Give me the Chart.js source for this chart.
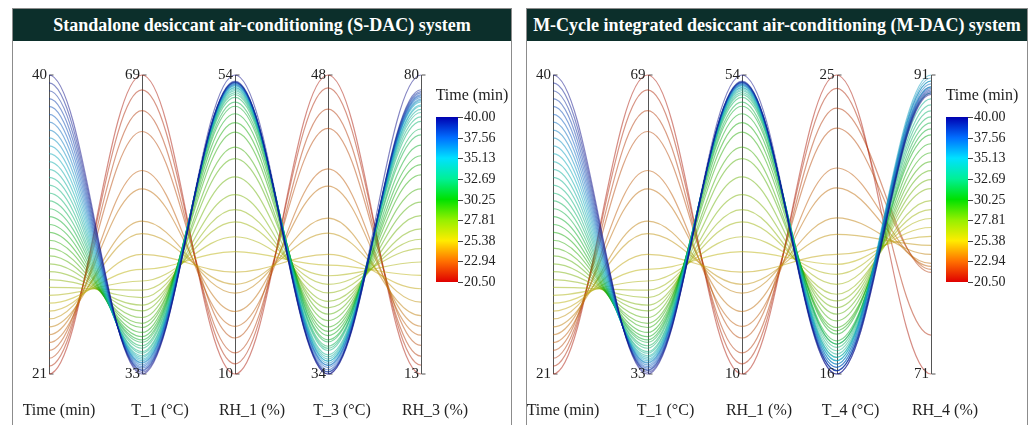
<!DOCTYPE html>
<html>
<head>
<meta charset="utf-8">
<script src="https://cdn.jsdelivr.net/npm/chart.js@4.4.1/dist/chart.umd.min.js"></script>
<style>
  body { margin: 0; background: #fff; width: 1032px; height: 425px; overflow: hidden; position: relative; }
  .panel { position: absolute; top: 8px; height: 440px; border: 1px solid #8c8c8c; box-sizing: border-box; }
  .head { height: 32px; background: #0c2f2b; color: #fff; font: bold 18px "Liberation Serif", serif;
          text-align: center; line-height: 32px; white-space: nowrap; overflow: hidden; }
  canvas { position: absolute; left: 0; top: 32px; }
</style>
</head>
<body>
<div class="panel" style="left:12px;width:500px">
  <div class="head">Standalone desiccant air-conditioning (S-DAC) system</div>
  <canvas id="sdac" width="498" height="384"></canvas>
</div>
<div class="panel" style="left:526px;width:502px">
  <div class="head">M-Cycle integrated desiccant air-conditioning (M-DAC) system</div>
  <canvas id="mdac" width="500" height="384"></canvas>
</div>
<script>
// one record every half minute
const timeMin = [21, 21.5, 22, 22.5, 23, 23.5, 24, 24.5, 25, 25.5, 26, 26.5, 27, 27.5, 28, 28.5, 29, 29.5, 30, 30.5,
                 31, 31.5, 32, 32.5, 33, 33.5, 34, 34.5, 35, 35.5, 36, 36.5, 37, 37.5, 38, 38.5, 39, 39.5, 40];
const t1 = [69.0, 67.2, 64.7, 62.2, 57.5, 55.3, 51.4, 49.9, 47.4, 45.6, 44.2, 43.1, 42.2, 41.3, 40.6, 39.8, 39.1, 38.6, 38.0, 37.5,
            37.1, 36.8, 36.4, 36.1, 35.7, 35.5, 35.2, 35.0, 34.8, 34.6, 34.4, 34.3, 34.1, 33.9, 33.7, 33.5, 33.4, 33.2, 33.0];
const rh1 = [10.0, 11.5, 13.1, 15.3, 17.0, 19.2, 21.9, 23.2, 25.0, 28.0, 30.2, 32.4, 34.2, 36.4, 39.0, 41.7, 43.4, 45.6, 47.0, 48.3,
             49.4, 50.0, 50.7, 51.1, 51.4, 51.7, 51.9, 52.1, 52.2, 52.4, 52.5, 52.6, 52.7, 52.8, 52.9, 52.9, 53.0, 53.1, 54.0];
const t3 = [48.0, 47.4, 46.4, 45.5, 43.6, 42.8, 41.3, 40.6, 39.6, 39.1, 38.6, 38.2, 37.8, 37.4, 37.1, 36.8, 36.5, 36.2, 36.0, 35.8,
            35.6, 35.5, 35.3, 35.2, 35.1, 34.9, 34.8, 34.7, 34.6, 34.6, 34.5, 34.4, 34.4, 34.3, 34.2, 34.1, 34.1, 34.0, 34.0];
const rh3 = [13.0, 15.0, 17.0, 19.4, 21.7, 23.7, 26.1, 29.1, 32.1, 35.1, 38.1, 41.1, 43.2, 45.5, 48.5, 51.5, 54.5, 57.6, 59.9, 61.9,
             64.3, 66.6, 67.9, 69.6, 70.6, 71.6, 72.3, 73.0, 73.3, 74.0, 74.3, 74.6, 75.0, 75.3, 75.6, 76.0, 76.3, 76.7, 80.0];
const t4 = [25.0, 24.6, 24.0, 23.4, 22.2, 21.6, 20.7, 20.2, 19.6, 19.3, 19.0, 18.7, 18.4, 18.2, 18.0, 17.8, 17.6, 17.4, 17.3, 17.2,
            17.0, 16.9, 16.9, 16.8, 16.7, 16.6, 16.5, 16.5, 16.4, 16.4, 16.3, 16.3, 16.2, 16.2, 16.1, 16.1, 16.1, 16.0, 16.0];
const rh4 = [71.0, 73.6, 77.8, 78.0, 78.2, 78.4, 79.0, 79.6, 80.2, 80.8, 81.4, 82.0, 82.6, 83.4, 84.0, 84.6, 85.2, 85.8, 86.4, 87.0,
             87.4, 87.8, 88.2, 88.6, 89.0, 89.4, 89.8, 90.2, 90.6, 91.0, 90.8, 90.6, 90.4, 90.2, 90.1, 90.0, 89.9, 89.8, 89.7];

const namesS = ['Time (min)', 'T_1 (°C)', 'RH_1 (%)', 'T_3 (°C)', 'RH_3 (%)'];
const namesM = ['Time (min)', 'T_1 (°C)', 'RH_1 (%)', 'T_4 (°C)', 'RH_4 (%)'];
const minsS = [21, 33, 10, 34, 13];
const maxsS = [40, 69, 54, 48, 80];
const minsM = [21, 33, 10, 16, 71];
const maxsM = [40, 69, 54, 25, 91];
const barTicks = [40.00, 37.56, 35.13, 32.69, 30.25, 27.81, 25.38, 22.94, 20.50];

// rainbow used by the colour bar (red -> blue)
const cmap = [[20.5, [224, 0, 0]], [22.94, [255, 112, 0]], [25.38, [255, 236, 0]], [27.81, [150, 240, 0]],
              [30.25, [0, 225, 0]], [32.69, [0, 240, 150]], [35.13, [0, 225, 255]], [37.56, [0, 110, 255]], [40, [0, 0, 176]]];

const colorAt = t => {
    for (let k = 1; k < cmap.length; k++) {
        if (t <= cmap[k][0]) {
            const [t0, c0] = cmap[k - 1], [t2, c2] = cmap[k];
            const f = (t - t0) / (t2 - t0);
            return c0.map((v, j) => Math.round(v + (c2[j] - v) * f));
        }
    }
    return cmap[cmap.length - 1][1];
};
// lines look a bit duller than the bar
const lineColor = t => {
    const c = colorAt(t).map(v => Math.round(v * 0.7 + 12));
    return `rgba(${c[0]},${c[1]},${c[2]},0.5)`;
};

// flat tangent at every axis, like the original cosine-shaped links
const flatTangents = {
    id: 'flatTangents',
    beforeDatasetDraw(chart, args) {
        const line = args.meta.dataset;
        line.updateControlPoints(chart.chartArea, 'x');
        const pts = line.points;
        pts.forEach((p, i) => {
            const prev = pts[i - 1], next = pts[i + 1];
            if (prev) { p.cp1x = p.x - (p.x - prev.x) * 0.37; p.cp1y = p.y; }
            if (next) { p.cp2x = p.x + (next.x - p.x) * 0.37; p.cp2y = p.y; }
        });
    }
};

const titleShift = [10, 18, 17, 14, 14];

const parallel = {
    id: 'parallel',
    beforeDatasetsDraw(chart, args, opts) {
        const {ctx, scales: {x, y}} = chart;
        const top = y.getPixelForValue(1), bot = y.getPixelForValue(0);
        ctx.save();
        ctx.strokeStyle = '#555';
        ctx.lineWidth = 1;
        opts.names.forEach((n, i) => {
            const px = Math.round(x.getPixelForValue(i)) + 0.5;
            ctx.beginPath();
            ctx.moveTo(px + 4, top); ctx.lineTo(px, top); ctx.lineTo(px, bot); ctx.lineTo(px + 4, bot);
            ctx.stroke();
        });
        ctx.restore();
    },
    afterDraw(chart, args, opts) {
        const {ctx, chartArea, scales: {x, y}} = chart;
        const top = y.getPixelForValue(1), bot = y.getPixelForValue(0);
        ctx.save();
        ctx.fillStyle = '#222';
        ctx.textBaseline = 'middle';
        opts.names.forEach((n, i) => {
            const px = x.getPixelForValue(i);
            ctx.font = '15px "Liberation Serif", serif';
            ctx.textAlign = 'right';
            ctx.fillText(String(opts.maxs[i]), px - 2, top);
            ctx.fillText(String(opts.mins[i]), px - 2, bot);
            ctx.font = '16px "Liberation Serif", serif';
            ctx.textAlign = 'center';
            ctx.fillText(n, px + titleShift[i], chartArea.bottom + 37);
        });

        // colour bar
        const bx = chartArea.right + 15, bw = 22, bTop = chartArea.top + 42, bBot = chartArea.top + 207;
        const lo = barTicks[barTicks.length - 1], hi = barTicks[0];
        const g = ctx.createLinearGradient(0, bBot, 0, bTop);
        cmap.forEach(([t, c]) => g.addColorStop((t - lo) / (hi - lo), `rgb(${c[0]},${c[1]},${c[2]})`));
        ctx.fillStyle = g;
        ctx.fillRect(bx, bTop, bw, bBot - bTop);
        ctx.strokeStyle = '#444';
        ctx.fillStyle = '#222';
        ctx.font = '14px "Liberation Serif", serif';
        ctx.textAlign = 'left';
        barTicks.forEach(v => {
            const py = Math.round(bBot - (v - lo) / (hi - lo) * (bBot - bTop)) + 0.5;
            ctx.beginPath(); ctx.moveTo(bx + bw, py); ctx.lineTo(bx + bw + 5, py); ctx.stroke();
            ctx.fillText(v.toFixed(2), bx + bw + 6, py);
        });
        ctx.font = '16px "Liberation Serif", serif';
        ctx.textAlign = 'center';
        ctx.fillText('Time (min)', bx + 36, bTop - 21);
        ctx.restore();
    }
};

const makeChart = (id, cols, names, mins, maxs, pad) => {
    const datasets = timeMin.map((t, i) => ({
        data: cols.map((col, k) => ({x: k, y: (col[i] - mins[k]) / (maxs[k] - mins[k])})),
        borderColor: lineColor(t),
        borderWidth: 1.2,
        pointRadius: 0,
        tension: 0.4,
        clip: false,
        order: timeMin.length - i
    }));
    return new Chart(document.getElementById(id), {
        type: 'line',
        data: {datasets},
        options: {
            responsive: false,
            animation: false,
            events: [],
            layout: {padding: pad},
            scales: {
                x: {type: 'linear', min: 0, max: 4, display: false},
                y: {min: 0, max: 1, display: false}
            },
            plugins: {
                legend: {display: false},
                tooltip: {enabled: false},
                parallel: {names, mins, maxs}
            }
        },
        plugins: [flatTangents, parallel]
    });
};

makeChart('sdac', [timeMin, t1, rh1, t3, rh3], namesS, minsS, maxsS, {left: 36, right: 90, top: 34, bottom: 51});
makeChart('mdac', [timeMin, t1, rh1, t4, rh4], namesM, minsM, maxsM, {left: 26, right: 96, top: 34, bottom: 51});
</script>
</body>
</html>
